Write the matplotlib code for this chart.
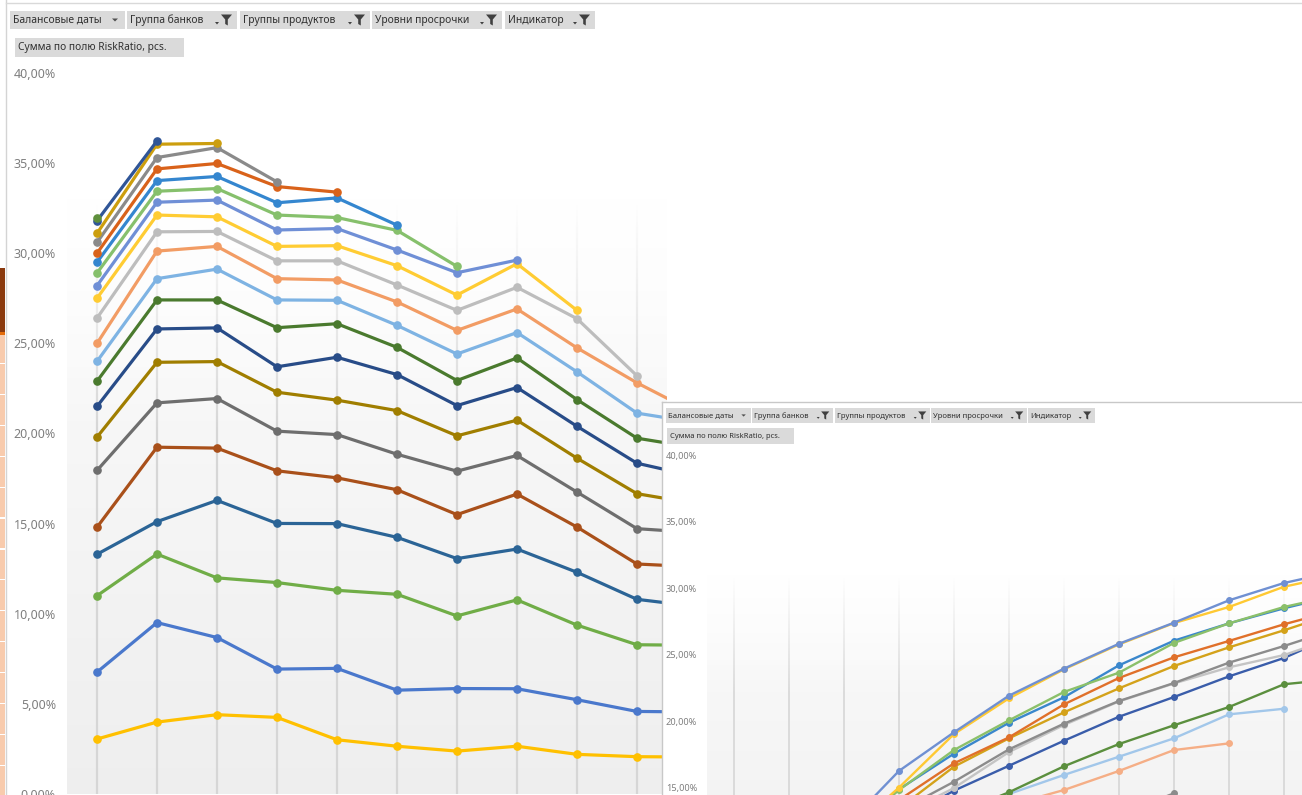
import numpy as np
import matplotlib
matplotlib.use('Agg')
import matplotlib.pyplot as plt
from matplotlib.patches import Rectangle, Polygon
from matplotlib.lines import Line2D
from matplotlib.ticker import FuncFormatter, FixedLocator

plt.rcParams['font.family'] = ['Noto Sans', 'DejaVu Sans']

W, H, DPI = 1302, 795, 100

# ---------------- data: main chart (cohort triangle, %) ----------------
main_s01 = [31.97]
main_s02 = [31.80, 36.23]
main_s03 = [31.10, 36.05, 36.09]
main_s04 = [30.60, 35.31, 35.86, 33.96]
main_s05 = [30.00, 34.68, 34.98, 33.70, 33.39]
main_s06 = [29.50, 34.03, 34.26, 32.80, 33.07, 31.56]
main_s07 = [28.90, 33.44, 33.59, 32.12, 31.98, 31.27, 29.27]
main_s08 = [28.20, 32.83, 32.95, 31.29, 31.37, 30.18, 28.92, 29.62]
main_s09 = [27.50, 32.12, 32.02, 30.38, 30.42, 29.31, 27.68, 29.42, 26.83]
main_s10 = [26.40, 31.19, 31.21, 29.58, 29.58, 28.24, 26.83, 28.11, 26.37, 23.20]
main_s11 = [25.00, 30.12, 30.38, 28.59, 28.52, 27.30, 25.72, 26.91, 24.75, 22.81, 21.10]
main_s12 = [24.00, 28.59, 29.12, 27.41, 27.39, 26.00, 24.41, 25.60, 23.42, 21.13, 20.60]
main_s13 = [22.90, 27.41, 27.41, 25.87, 26.09, 24.78, 22.94, 24.19, 21.88, 19.74, 19.20]
main_s14 = [21.50, 25.80, 25.86, 23.70, 24.23, 23.27, 21.55, 22.55, 20.40, 18.35, 17.60]
main_s15 = [19.80, 23.95, 23.99, 22.29, 21.85, 21.27, 19.87, 20.74, 18.63, 16.66, 16.10]
main_s16 = [17.95, 21.70, 21.94, 20.13, 19.94, 18.85, 17.91, 18.78, 16.75, 14.72, 14.50]
main_s17 = [14.80, 19.24, 19.19, 17.93, 17.54, 16.88, 15.50, 16.64, 14.81, 12.76, 12.60]
main_s18 = [13.30, 15.11, 16.29, 15.01, 15.00, 14.24, 13.06, 13.59, 12.30, 10.80, 10.40]
main_s19 = [11.00, 13.31, 11.99, 11.73, 11.30, 11.08, 9.88, 10.77, 9.37, 8.28, 8.25]
main_s20 = [6.76, 9.51, 8.68, 6.93, 6.97, 5.76, 5.85, 5.84, 5.23, 4.58, 4.55]
main_s21 = [3.05, 3.99, 4.40, 4.25, 3.01, 2.65, 2.38, 2.65, 2.20, 2.07, 2.05]

main_series = [main_s21, main_s20, main_s19, main_s18, main_s17, main_s16, main_s15,
               main_s14, main_s13, main_s12, main_s11, main_s10, main_s09, main_s08,
               main_s07, main_s06, main_s05, main_s04, main_s03, main_s02, main_s01]
main_colors = ['#FFC000', '#4A78CC', '#70AD47', '#2B6496', '#A9501A', '#6E6E6E', '#A07E00',
               '#284C88', '#4A7A2E', '#7EB3E3', '#F29C64', '#BDBDBD', '#FFCC33', '#6F8FD6',
               '#86C06C', '#3486CF', '#D9621A', '#8A8A8A', '#CC9E0E', '#2F5597', '#5E8F3B']
main_yticks = [0, 5, 10, 15, 20, 25, 30, 35, 40]
main_ncat_visible = 10

# ---------------- data: inset chart (start index, values %) ----------------
ins_yellow = (2, [11.4, 15.03, 19.05, 21.73, 23.91, 25.78, 27.38, 28.59, 30.11, 31.0])
ins_cornflower = (2, [12.0, 16.28, 19.18, 21.93, 23.96, 25.83, 27.41, 29.09, 30.39, 31.3])
ins_lightgreen = (2, [11.3, 14.85, 17.85, 20.08, 22.21, 23.66, 25.89, 27.36, 28.59, 29.5])
ins_blue = (2, [11.5, 14.90, 17.58, 19.90, 21.81, 24.21, 26.06, 27.36, 28.49, 29.5])
ins_orange = (2, [11.0, 14.10, 16.85, 18.80, 21.28, 23.26, 24.81, 26.04, 27.29, 28.4])
ins_gold = (2, [10.5, 13.46, 16.60, 18.73, 20.68, 22.48, 24.16, 25.56, 26.84, 28.2])
ins_grey = (2, [10.4, 13.27, 15.47, 17.90, 19.83, 21.53, 22.88, 24.41, 25.66, 27.0])
ins_lightgrey = (2, [10.0, 12.90, 15.00, 17.70, 19.73, 21.50, 22.85, 24.06, 24.98, 26.4])
ins_navy = (2, [9.8, 12.50, 14.80, 16.67, 18.55, 20.35, 21.83, 23.38, 24.76, 26.6])
ins_darkgreen = (3, [10.5, 13.00, 14.68, 16.63, 18.30, 19.71, 21.08, 22.79, 23.2])
ins_lightblue = (3, [10.2, 12.90, 14.55, 15.98, 17.35, 18.73, 20.53, 20.95])
ins_lightorange = (4, [11.5, 13.70, 14.85, 16.28, 17.85, 18.35])
ins_darkgrey = (6, [11.8, 13.0, 14.6])

ins_series = [ins_darkgrey, ins_lightorange, ins_lightblue, ins_darkgreen, ins_navy,
              ins_lightgrey, ins_grey, ins_gold, ins_orange, ins_blue, ins_lightgreen,
              ins_yellow, ins_cornflower]
ins_colors = ['#8C8C8C', '#F5AE86', '#A2C7EA', '#5B8F3E', '#3A5DAA',
              '#C4C4C4', '#8C8C8C', '#D4A21A', '#E0702A', '#3A87CC', '#8BC06A',
              '#FFC933', '#6F90D2']
ins_yticks = [15, 20, 25, 30, 35, 40]

btn_labels = ['Балансовые даты', 'Группа банков', 'Группы продуктов', 'Уровни просрочки', 'Индикатор']
sum_label = 'Сумма по полю RiskRatio, pcs.'

# ---------------- helpers (pixel coords, origin top-left) ----------------
fig = plt.figure(figsize=(W / DPI, H / DPI), dpi=DPI)
fig.patch.set_facecolor('white')

def fx(x):
    return x / W

def fy(y):
    return 1 - y / H

def rect_px(x0, y0, x1, y1):
    return [x0 / W, 1 - y1 / H, (x1 - x0) / W, (y1 - y0) / H]

def frect(x0, y0, x1, y1, color, z):
    r = Rectangle((fx(x0), fy(y1)), (x1 - x0) / W, (y1 - y0) / H, transform=fig.transFigure,
                  facecolor=color, edgecolor='none', zorder=z)
    fig.add_artist(r)

def fpoly(pts, color, z):
    p = Polygon([(fx(x), fy(y)) for x, y in pts], closed=True, transform=fig.transFigure,
                facecolor=color, edgecolor='none', zorder=z)
    fig.add_artist(p)

def fline(x0, y0, x1, y1, color, lw, z):
    fig.add_artist(Line2D([fx(x0), fx(x1)], [fy(y0), fy(y1)], transform=fig.transFigure,
                          color=color, lw=lw, zorder=z))

def pct(v, pos=None):
    return ('%.2f' % v).replace('.', ',') + '%'

def button_row(x_edges, y0, y1, fs, s, z):
    for i, ((x0, x1), lab) in enumerate(zip(x_edges, btn_labels)):
        frect(x0, y0, x1, y1, '#DADADA', z)
        fig.text(fx(x0 + 3 * s), fy((y0 + y1) / 2 + 0.5), lab, fontsize=fs, color='#303030',
                 ha='left', va='center', zorder=z + 1)
        yc = (y0 + y1) / 2
        if i == 0:
            cx = x1 - 10 * s
            fpoly([(cx - 3 * s, yc - 1.5 * s), (cx + 3 * s, yc - 1.5 * s), (cx, yc + 1.5 * s)], '#505050', z + 1)
        else:
            fr = x1 - 5 * s
            fl = fr - 11 * s
            cx = (fl + fr) / 2
            t = yc - 5.5 * s
            fpoly([(fl, t), (fr, t), (cx + 1.3 * s, t + 5 * s), (cx + 1.3 * s, t + 11 * s),
                   (cx - 1.3 * s, t + 9.5 * s), (cx - 1.3 * s, t + 5 * s)], '#404040', z + 1)
            ax_ = fl - 4 * s
            fpoly([(ax_ - 2 * s, yc + 2 * s), (ax_ + 2 * s, yc + 2 * s), (ax_, yc + 4.5 * s)], '#404040', z + 1)

def fade_overlay(ax, x0, x1, y0, y1, v_full, v_zero, z):
    n = 300
    v = np.linspace(y1, y0, n)
    a = np.clip((v - v_zero) / (v_full - v_zero), 0, 1)
    img = np.ones((n, 1, 4))
    img[:, 0, 3] = a
    ax.imshow(img, extent=[x0, x1, y0, y1], aspect='auto', zorder=z, interpolation='bilinear')

def bg_gradient(ax, x0, x1, y0, y1, top, bottom, z):
    n = 300
    g = np.linspace(top, bottom, n)
    img = np.repeat(g[:, None, None], 3, axis=2)
    ax.imshow(img, extent=[x0, x1, y0, y1], aspect='auto', zorder=z, interpolation='bilinear',
              vmin=0, vmax=1)

# ---------------- background window bits at left edge ----------------
frect(0, 268, 4.5, 332, '#8B3A0E', 0.5)
frect(0, 332, 4.5, 335, '#E46C0A', 0.5)
frect(0, 335, 4.5, 795, '#F8CBAD', 0.5)
for yy in np.arange(363, 795, 30.9):
    frect(0, yy, 4.5, yy + 1.2, '#FFFFFF', 0.6)
fline(5.5, 0, 5.5, 795, '#D4D4D4', 1.0, 0.7)
fline(5.5, 2.5, 1302, 2.5, '#D9D9D9', 1.0, 0.7)

# ---------------- main chart ----------------
mx0, mx1 = -0.5, main_ncat_visible - 0.5
ax = fig.add_axes(rect_px(67, 73, 67 + 60 * main_ncat_visible, 794))
ax.set_zorder(1)
ax.set_facecolor('none')
bg_gradient(ax, mx0, mx1, 0, 40, 1.0, 0.935, 0)
ax.vlines(np.arange(0, main_ncat_visible), 0, 40, color='#D6D6D6', lw=1.6, zorder=1)
fade_overlay(ax, mx0, mx1, 0, 40, 33, 20, 1.5)
for vals, col in zip(main_series, main_colors):
    xs = np.arange(len(vals))
    ax.plot(xs, vals, color=col, lw=2.3, marker='o', ms=5.2, mec=col, mfc=col,
            solid_joinstyle='round', solid_capstyle='round', zorder=3)
ax.set_xlim(mx0, mx1)
ax.set_ylim(0, 40)
for sp in ax.spines.values():
    sp.set_visible(False)
ax.yaxis.set_major_locator(FixedLocator(main_yticks))
ax.yaxis.set_major_formatter(FuncFormatter(pct))
ax.tick_params(axis='y', length=0, pad=8, labelsize=9, labelcolor='#7F7F7F')
ax.set_xticks([])

# main buttons
button_row([(10, 125), (127, 237), (240, 370), (372, 502), (505, 595)], 11, 29, 7.45, 1.0, 2)
frect(15, 38, 184, 57, '#DADADA', 2)
fig.text(fx(18), fy(47.5), sum_label, fontsize=7.35, color='#303030', ha='left', va='center', zorder=3)

# ---------------- inset chart ----------------
panel = fig.add_axes(rect_px(662, 402, 1310, 800))
panel.set_zorder(10)
panel.set_facecolor('white')
panel.set_xticks([]); panel.set_yticks([])
for k, sp in panel.spines.items():
    sp.set_visible(k in ('left', 'top'))
    sp.set_color('#C8C8C8')
    sp.set_linewidth(1.0)

ix0, ix1 = -0.49, (1302 - 734) / 55.0
iy0 = 40 - (795 - 455) / 13.32
ax2 = fig.add_axes(rect_px(707, 455, 1302, 795))
ax2.set_zorder(11)
ax2.set_facecolor('none')
bg_gradient(ax2, ix0, ix1, iy0, 40, 1.0, 0.955, 0)
ax2.vlines(np.arange(0, 11), 0, 40, color='#D6D6D6', lw=1.2, zorder=1)
fade_overlay(ax2, ix0, ix1, iy0, 40, 31, 22, 1.5)
for (st, vals), col in zip(ins_series, ins_colors):
    xs = np.arange(st, st + len(vals))
    ax2.plot(xs, vals, color=col, lw=1.7, marker='o', ms=4.0, mec=col, mfc=col,
             solid_joinstyle='round', zorder=3)
ax2.set_xlim(ix0, ix1)
ax2.set_ylim(iy0, 40)
for sp in ax2.spines.values():
    sp.set_visible(False)
ax2.yaxis.set_major_locator(FixedLocator(ins_yticks))
ax2.yaxis.set_major_formatter(FuncFormatter(pct))
ax2.tick_params(axis='y', length=0, pad=7, labelsize=6.6, labelcolor='#7F7F7F')
ax2.set_xticks([])

s2 = 0.74
button_row([(666, 751), (752, 833), (835, 930), (931, 1027), (1028, 1095)], 408, 423, 5.5, s2, 12)
frect(667, 428, 794, 444, '#DADADA', 12)
fig.text(fx(670), fy(436.5), sum_label, fontsize=5.45, color='#303030', ha='left', va='center', zorder=13)

fig.savefig('out.png', dpi=DPI, facecolor='white')
